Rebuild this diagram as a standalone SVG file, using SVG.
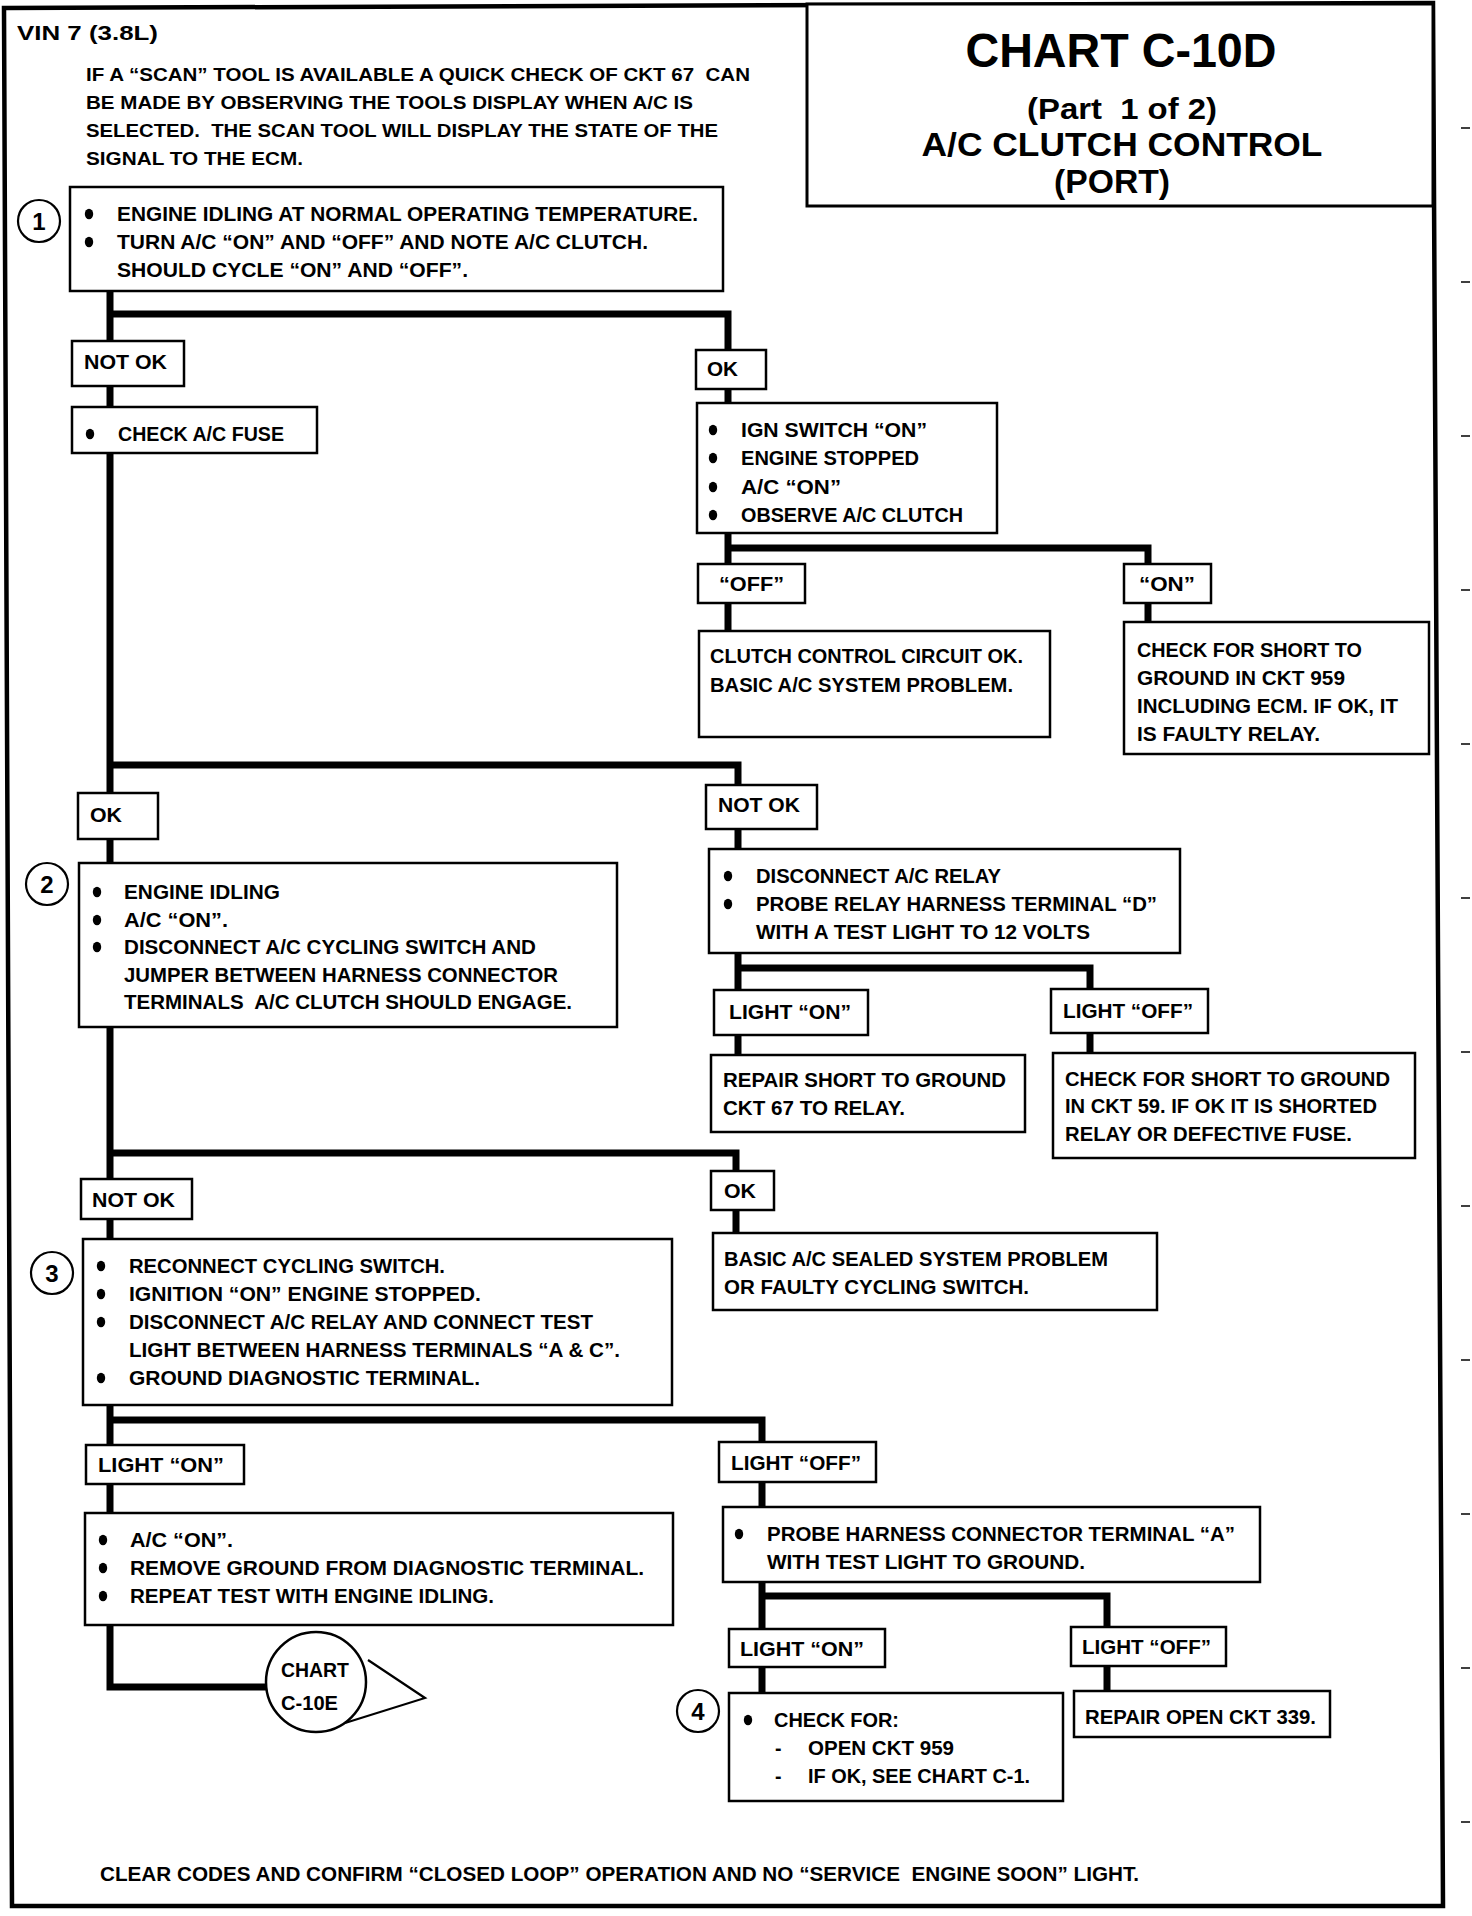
<svg xmlns="http://www.w3.org/2000/svg" width="1472" height="1916" viewBox="0 0 1472 1916">
<style>
.bg{fill:#fff}
.box{fill:#fff;stroke:#000;stroke-width:2.5}
.frame{fill:none;stroke:#000;stroke-width:4.5}
.conn{fill:none;stroke:#000;stroke-width:7;stroke-linejoin:miter;stroke-linecap:butt}
.thin{fill:none;stroke:#000;stroke-width:2.2}
.mark{fill:none;stroke:#000;stroke-width:1.5}
.t{font-family:"Liberation Sans",Arial,sans-serif;font-weight:bold;font-size:19.5px;fill:#000}
.ti{font-family:"Liberation Sans",Arial,sans-serif;font-weight:bold;fill:#000;text-anchor:middle}
.num{font-family:"Liberation Sans",Arial,sans-serif;font-weight:bold;font-size:24px;fill:#000;text-anchor:middle}
.dot{fill:#000}
</style>
<defs>
<ellipse id="b" class="dot" cx="0" cy="0" rx="4.2" ry="5.2"/>
</defs>
<rect class="bg" x="0" y="0" width="1472" height="1916"/>
<g id="frame">
<polygon class="frame" points="4,8 1433,3 1443,1906 12,1906"/>
<line class="mark" x1="1461" y1="128" x2="1470" y2="128"/>
<line class="mark" x1="1461" y1="282" x2="1470" y2="282"/>
<line class="mark" x1="1461" y1="436" x2="1470" y2="436"/>
<line class="mark" x1="1461" y1="590" x2="1470" y2="590"/>
<line class="mark" x1="1461" y1="744" x2="1470" y2="744"/>
<line class="mark" x1="1461" y1="898" x2="1470" y2="898"/>
<line class="mark" x1="1461" y1="1052" x2="1470" y2="1052"/>
<line class="mark" x1="1461" y1="1206" x2="1470" y2="1206"/>
<line class="mark" x1="1461" y1="1360" x2="1470" y2="1360"/>
<line class="mark" x1="1461" y1="1514" x2="1470" y2="1514"/>
<line class="mark" x1="1461" y1="1668" x2="1470" y2="1668"/>
<line class="mark" x1="1461" y1="1822" x2="1470" y2="1822"/>
</g>
<g id="connectors">
<path class="conn" d="M110,290 V1687 H266"/>
<path class="conn" d="M110,314 H728 V631"/>
<path class="conn" d="M728,548 H1148 V622"/>
<path class="conn" d="M110,765 H738 V1055"/>
<path class="conn" d="M738,968 H1090 V1053"/>
<path class="conn" d="M110,1153 H736 V1233"/>
<path class="conn" d="M110,1420 H762 V1693"/>
<path class="conn" d="M762,1596 H1107 V1691"/>
</g>
<g id="header">
<text class="t" x="17" y="40" style="font-size:21px" textLength="141" lengthAdjust="spacingAndGlyphs">VIN 7 (3.8L)</text>
<text class="t" x="86" y="81" style="font-size:19px" textLength="664" lengthAdjust="spacingAndGlyphs" xml:space="preserve">IF A “SCAN” TOOL IS AVAILABLE A QUICK CHECK OF CKT 67  CAN</text>
<text class="t" x="86" y="109" style="font-size:19px" textLength="607" lengthAdjust="spacingAndGlyphs">BE MADE BY OBSERVING THE TOOLS DISPLAY WHEN A/C IS</text>
<text class="t" x="86" y="137" style="font-size:19px" textLength="632" lengthAdjust="spacingAndGlyphs" xml:space="preserve">SELECTED.  THE SCAN TOOL WILL DISPLAY THE STATE OF THE</text>
<text class="t" x="86" y="165" style="font-size:19px" textLength="217" lengthAdjust="spacingAndGlyphs">SIGNAL TO THE ECM.</text>
</g>
<g id="title">
<rect class="box" x="807" y="4" width="626" height="202" style="stroke-width:3"/>
<text class="ti" x="1121" y="67" style="font-size:48px" textLength="311" lengthAdjust="spacingAndGlyphs">CHART C-10D</text>
<text class="ti" x="1122" y="119" style="font-size:30px" textLength="190" lengthAdjust="spacingAndGlyphs" xml:space="preserve">(Part  1 of 2)</text>
<text class="ti" x="1122" y="156" style="font-size:33px" textLength="401" lengthAdjust="spacingAndGlyphs">A/C CLUTCH CONTROL</text>
<text class="ti" x="1112" y="193" style="font-size:33px" textLength="116" lengthAdjust="spacingAndGlyphs">(PORT)</text>
</g>
<g id="step1">
<circle class="thin" cx="39" cy="221" r="21"/>
<text class="num" x="39" y="230">1</text>
<rect class="box" x="70" y="187" width="653" height="104"/>
<use href="#b" x="89" y="214"/>
<use href="#b" x="89" y="242"/>
<text class="t" x="117" y="221" textLength="581" lengthAdjust="spacingAndGlyphs">ENGINE IDLING AT NORMAL OPERATING TEMPERATURE.</text>
<text class="t" x="117" y="249" textLength="531" lengthAdjust="spacingAndGlyphs">TURN A/C “ON” AND “OFF” AND NOTE A/C CLUTCH.</text>
<text class="t" x="117" y="277" textLength="351" lengthAdjust="spacingAndGlyphs">SHOULD CYCLE “ON” AND “OFF”.</text>
</g>
<g id="notok1">
<rect class="box" x="72" y="341" width="112" height="45"/>
<text class="t" x="84" y="369" textLength="83" lengthAdjust="spacingAndGlyphs">NOT OK</text>
</g>
<g id="fuse">
<rect class="box" x="72" y="407" width="245" height="46"/>
<use href="#b" x="90" y="434"/>
<text class="t" x="118" y="441" textLength="166" lengthAdjust="spacingAndGlyphs">CHECK A/C FUSE</text>
</g>
<g id="ok1">
<rect class="box" x="696" y="350" width="70" height="39"/>
<text class="t" x="707" y="376" textLength="31" lengthAdjust="spacingAndGlyphs">OK</text>
</g>
<g id="ign">
<rect class="box" x="697" y="403" width="300" height="130"/>
<use href="#b" x="713" y="430"/>
<use href="#b" x="713" y="458"/>
<use href="#b" x="713" y="487"/>
<use href="#b" x="713" y="515"/>
<text class="t" x="741" y="437" textLength="186" lengthAdjust="spacingAndGlyphs">IGN SWITCH “ON”</text>
<text class="t" x="741" y="465" textLength="178" lengthAdjust="spacingAndGlyphs">ENGINE STOPPED</text>
<text class="t" x="741" y="494" textLength="100" lengthAdjust="spacingAndGlyphs">A/C “ON”</text>
<text class="t" x="741" y="522" textLength="222" lengthAdjust="spacingAndGlyphs">OBSERVE A/C CLUTCH</text>
</g>
<g id="off1">
<rect class="box" x="698" y="564" width="107" height="39"/>
<text class="t" x="719" y="591" textLength="65" lengthAdjust="spacingAndGlyphs">“OFF”</text>
</g>
<g id="on1">
<rect class="box" x="1124" y="564" width="87" height="39"/>
<text class="t" x="1139" y="591" textLength="56" lengthAdjust="spacingAndGlyphs">“ON”</text>
</g>
<g id="clutchok">
<rect class="box" x="699" y="631" width="351" height="106"/>
<text class="t" x="710" y="663" textLength="313" lengthAdjust="spacingAndGlyphs">CLUTCH CONTROL CIRCUIT OK.</text>
<text class="t" x="710" y="692" textLength="303" lengthAdjust="spacingAndGlyphs">BASIC A/C SYSTEM PROBLEM.</text>
</g>
<g id="short959">
<rect class="box" x="1124" y="622" width="305" height="132"/>
<text class="t" x="1137" y="657" textLength="225" lengthAdjust="spacingAndGlyphs">CHECK FOR SHORT TO</text>
<text class="t" x="1137" y="685" textLength="208" lengthAdjust="spacingAndGlyphs">GROUND IN CKT 959</text>
<text class="t" x="1137" y="713" textLength="261" lengthAdjust="spacingAndGlyphs">INCLUDING ECM. IF OK, IT</text>
<text class="t" x="1137" y="741" textLength="183" lengthAdjust="spacingAndGlyphs">IS FAULTY RELAY.</text>
</g>
<g id="ok2">
<rect class="box" x="78" y="793" width="80" height="46"/>
<text class="t" x="90" y="822" textLength="32" lengthAdjust="spacingAndGlyphs">OK</text>
</g>
<g id="notok2">
<rect class="box" x="706" y="785" width="111" height="44"/>
<text class="t" x="718" y="812" textLength="82" lengthAdjust="spacingAndGlyphs">NOT OK</text>
</g>
<g id="step2">
<circle class="thin" cx="47" cy="884" r="21"/>
<text class="num" x="47" y="893">2</text>
<rect class="box" x="79" y="863" width="538" height="164"/>
<use href="#b" x="97" y="892"/>
<use href="#b" x="97" y="920"/>
<use href="#b" x="97" y="947"/>
<text class="t" x="124" y="899" textLength="156" lengthAdjust="spacingAndGlyphs">ENGINE IDLING</text>
<text class="t" x="124" y="927" textLength="104" lengthAdjust="spacingAndGlyphs">A/C “ON”.</text>
<text class="t" x="124" y="954" textLength="412" lengthAdjust="spacingAndGlyphs">DISCONNECT A/C CYCLING SWITCH AND</text>
<text class="t" x="124" y="982" textLength="434" lengthAdjust="spacingAndGlyphs">JUMPER BETWEEN HARNESS CONNECTOR</text>
<text class="t" x="124" y="1009" textLength="448" lengthAdjust="spacingAndGlyphs" xml:space="preserve">TERMINALS  A/C CLUTCH SHOULD ENGAGE.</text>
</g>
<g id="relay">
<rect class="box" x="709" y="849" width="471" height="104"/>
<use href="#b" x="728" y="876"/>
<use href="#b" x="728" y="904"/>
<text class="t" x="756" y="883" textLength="245" lengthAdjust="spacingAndGlyphs">DISCONNECT A/C RELAY</text>
<text class="t" x="756" y="911" textLength="401" lengthAdjust="spacingAndGlyphs">PROBE RELAY HARNESS TERMINAL “D”</text>
<text class="t" x="756" y="939" textLength="334" lengthAdjust="spacingAndGlyphs">WITH A TEST LIGHT TO 12 VOLTS</text>
</g>
<g id="lighton2">
<rect class="box" x="714" y="990" width="154" height="45"/>
<text class="t" x="729" y="1019" textLength="122" lengthAdjust="spacingAndGlyphs">LIGHT “ON”</text>
</g>
<g id="lightoff2">
<rect class="box" x="1051" y="989" width="157" height="44"/>
<text class="t" x="1063" y="1018" textLength="130" lengthAdjust="spacingAndGlyphs">LIGHT “OFF”</text>
</g>
<g id="repairshort">
<rect class="box" x="711" y="1055" width="314" height="77"/>
<text class="t" x="723" y="1087" textLength="283" lengthAdjust="spacingAndGlyphs">REPAIR SHORT TO GROUND</text>
<text class="t" x="723" y="1115" textLength="182" lengthAdjust="spacingAndGlyphs">CKT 67 TO RELAY.</text>
</g>
<g id="ckt59">
<rect class="box" x="1053" y="1053" width="362" height="105"/>
<text class="t" x="1065" y="1086" textLength="325" lengthAdjust="spacingAndGlyphs">CHECK FOR SHORT TO GROUND</text>
<text class="t" x="1065" y="1113" textLength="312" lengthAdjust="spacingAndGlyphs">IN CKT 59. IF OK IT IS SHORTED</text>
<text class="t" x="1065" y="1141" textLength="287" lengthAdjust="spacingAndGlyphs">RELAY OR DEFECTIVE FUSE.</text>
</g>
<g id="notok3">
<rect class="box" x="81" y="1179" width="111" height="40"/>
<text class="t" x="92" y="1207" textLength="83" lengthAdjust="spacingAndGlyphs">NOT OK</text>
</g>
<g id="ok3">
<rect class="box" x="711" y="1171" width="63" height="39"/>
<text class="t" x="724" y="1198" textLength="32" lengthAdjust="spacingAndGlyphs">OK</text>
</g>
<g id="sealed">
<rect class="box" x="713" y="1233" width="444" height="77"/>
<text class="t" x="724" y="1266" textLength="384" lengthAdjust="spacingAndGlyphs">BASIC A/C SEALED SYSTEM PROBLEM</text>
<text class="t" x="724" y="1294" textLength="305" lengthAdjust="spacingAndGlyphs">OR FAULTY CYCLING SWITCH.</text>
</g>
<g id="step3">
<circle class="thin" cx="52" cy="1273" r="21"/>
<text class="num" x="52" y="1282">3</text>
<rect class="box" x="83" y="1239" width="589" height="166"/>
<use href="#b" x="101" y="1266"/>
<use href="#b" x="101" y="1294"/>
<use href="#b" x="101" y="1322"/>
<use href="#b" x="101" y="1378"/>
<text class="t" x="129" y="1273" textLength="316" lengthAdjust="spacingAndGlyphs">RECONNECT CYCLING SWITCH.</text>
<text class="t" x="129" y="1301" textLength="352" lengthAdjust="spacingAndGlyphs">IGNITION “ON” ENGINE STOPPED.</text>
<text class="t" x="129" y="1329" textLength="464" lengthAdjust="spacingAndGlyphs">DISCONNECT A/C RELAY AND CONNECT TEST</text>
<text class="t" x="129" y="1357" textLength="491" lengthAdjust="spacingAndGlyphs">LIGHT BETWEEN HARNESS TERMINALS “A &amp; C”.</text>
<text class="t" x="129" y="1385" textLength="351" lengthAdjust="spacingAndGlyphs">GROUND DIAGNOSTIC TERMINAL.</text>
</g>
<g id="lighton4">
<rect class="box" x="86" y="1445" width="158" height="39"/>
<text class="t" x="98" y="1472" textLength="126" lengthAdjust="spacingAndGlyphs">LIGHT “ON”</text>
</g>
<g id="lightoff4">
<rect class="box" x="719" y="1442" width="157" height="40"/>
<text class="t" x="731" y="1470" textLength="130" lengthAdjust="spacingAndGlyphs">LIGHT “OFF”</text>
</g>
<g id="probe">
<rect class="box" x="723" y="1507" width="537" height="75"/>
<use href="#b" x="739" y="1534"/>
<text class="t" x="767" y="1541" textLength="468" lengthAdjust="spacingAndGlyphs">PROBE HARNESS CONNECTOR TERMINAL “A”</text>
<text class="t" x="767" y="1569" textLength="318" lengthAdjust="spacingAndGlyphs">WITH TEST LIGHT TO GROUND.</text>
</g>
<g id="repeat">
<rect class="box" x="85" y="1513" width="588" height="112"/>
<use href="#b" x="103" y="1540"/>
<use href="#b" x="103" y="1568"/>
<use href="#b" x="103" y="1596"/>
<text class="t" x="130" y="1547" textLength="103" lengthAdjust="spacingAndGlyphs">A/C “ON”.</text>
<text class="t" x="130" y="1575" textLength="514" lengthAdjust="spacingAndGlyphs">REMOVE GROUND FROM DIAGNOSTIC TERMINAL.</text>
<text class="t" x="130" y="1603" textLength="364" lengthAdjust="spacingAndGlyphs">REPEAT TEST WITH ENGINE IDLING.</text>
</g>
<g id="chart10e">
<circle class="thin" cx="316" cy="1682" r="50" style="stroke-width:2.5"/>
<polyline class="thin" points="368,1660 425,1698 345,1723"/>
<text class="t" x="281" y="1677" style="font-size:21px" textLength="68" lengthAdjust="spacingAndGlyphs">CHART</text>
<text class="t" x="281" y="1710" style="font-size:21px" textLength="57" lengthAdjust="spacingAndGlyphs">C-10E</text>
</g>
<g id="lighton5">
<rect class="box" x="729" y="1629" width="156" height="38"/>
<text class="t" x="740" y="1656" textLength="124" lengthAdjust="spacingAndGlyphs">LIGHT “ON”</text>
</g>
<g id="lightoff5">
<rect class="box" x="1071" y="1627" width="155" height="39"/>
<text class="t" x="1082" y="1654" textLength="129" lengthAdjust="spacingAndGlyphs">LIGHT “OFF”</text>
</g>
<g id="step4">
<circle class="thin" cx="698" cy="1711" r="21"/>
<text class="num" x="698" y="1720">4</text>
<rect class="box" x="729" y="1693" width="334" height="108"/>
<use href="#b" x="748" y="1720"/>
<text class="t" x="774" y="1727" textLength="125" lengthAdjust="spacingAndGlyphs">CHECK FOR:</text>
<text class="t" x="775" y="1755">-</text>
<text class="t" x="775" y="1783">-</text>
<text class="t" x="808" y="1755" textLength="146" lengthAdjust="spacingAndGlyphs">OPEN CKT 959</text>
<text class="t" x="808" y="1783" textLength="222" lengthAdjust="spacingAndGlyphs">IF OK, SEE CHART C-1.</text>
</g>
<g id="repairopen">
<rect class="box" x="1074" y="1691" width="256" height="46"/>
<text class="t" x="1085" y="1724" textLength="231" lengthAdjust="spacingAndGlyphs">REPAIR OPEN CKT 339.</text>
</g>
<g id="footer">
<text class="t" x="100" y="1881" style="font-size:20.5px" textLength="1039" lengthAdjust="spacingAndGlyphs" xml:space="preserve">CLEAR CODES AND CONFIRM “CLOSED LOOP” OPERATION AND NO “SERVICE  ENGINE SOON” LIGHT.</text>
</g>
</svg>
